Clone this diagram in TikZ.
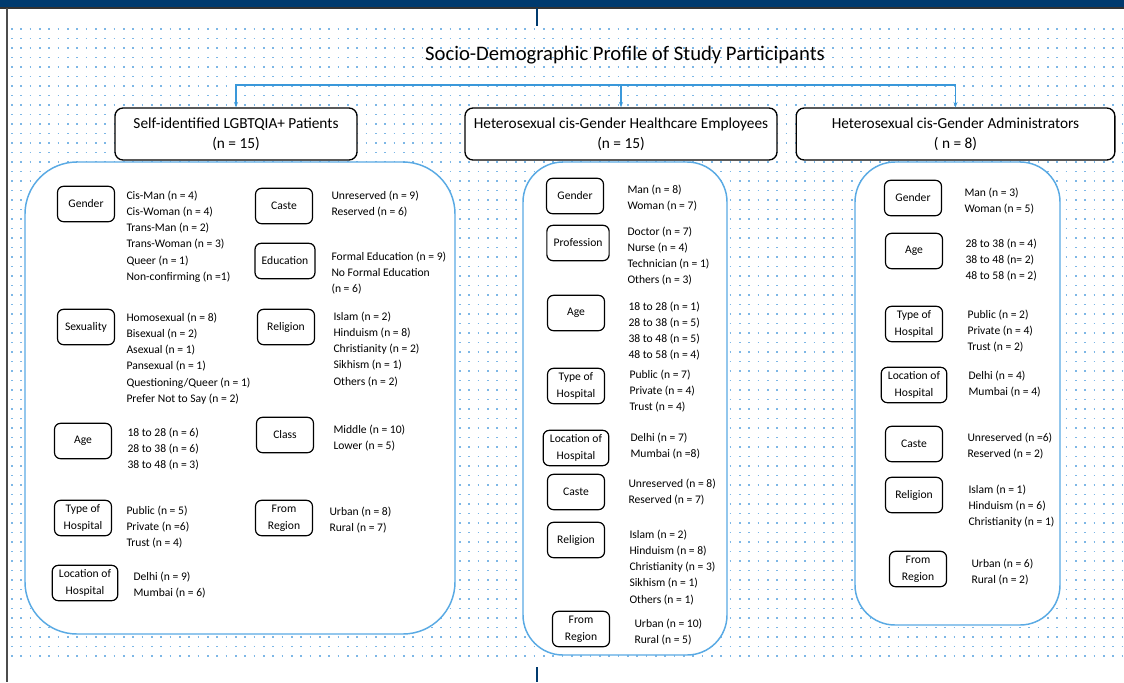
\documentclass[tikz,border=0pt]{standalone}
\usepackage{fontspec}
\setmainfont{Carlito}
\usetikzlibrary{arrows.meta}

\definecolor{bandnavy}{HTML}{003A6E}
\definecolor{dotblue}{HTML}{7DB7E6}
\definecolor{panelblue}{HTML}{5AAAE4}
\definecolor{linkblue}{HTML}{3A98DA}

\tikzset{every picture/.style={line width=0.75pt}}
\tikzset{
  hdrbox/.style={draw=black, line width=1pt, rounded corners=6pt, fill=white, align=center,
    minimum height=39pt, font=\fontsize{11.5}{15}\selectfont},
  catbox/.style={draw=black, line width=0.9pt, rounded corners=4.5pt, fill=white, align=center,
    minimum width=42.75pt, minimum height=26.5pt, inner xsep=5pt, inner ysep=1pt,
    font=\fontsize{8.7}{12.5}\selectfont},
  items/.style={anchor=north west, inner sep=0.75pt, align=left, font=\fontsize{8.7}{12.1}\selectfont},
  panel/.style={draw=panelblue, line width=1.1pt, fill=white},
  link/.style={draw=linkblue, line width=0.8pt, -{Stealth[length=4pt,width=3pt]}},
}

\begin{document}
\begin{tikzpicture}[x=0.75pt,y=0.75pt,yscale=-1,xscale=1]
\useasboundingbox (0,0) rectangle (1124,682);
% Background
\fill[white] (0,0) rectangle (1124,682);
\foreach \y in {29,38.5,...,664} {
  \draw[dotblue, line width=1.2pt, dash pattern=on 1.2pt off 5.8pt] (11,\y) -- (1124,\y);
}
\fill[bandnavy] (0,0) rectangle (1124,7.5);
\draw[black!80, line width=0.9pt] (0,8) -- (1124,8);
\draw[black!70, line width=1.4pt] (7,8) -- (7,682);
\draw[bandnavy, line width=1.5pt] (537,8) -- (537,26);
\draw[bandnavy, line width=1.5pt] (537,667) -- (537,682);

% Text Node
\draw (625,55) node [font=\fontsize{15.5}{18}\selectfont] (title) {Socio-Demographic Profile of Study Participants};

% Shape: Rounded Rect
\draw[panel, rounded corners=52pt*0.75] (25,162) rectangle (455,634);
\draw[panel, rounded corners=40pt*0.75] (523,162) rectangle (727,655);
\draw[panel, rounded corners=40pt*0.75] (855,162) rectangle (1060,625);

% Header boxes
\draw (236,134) node [hdrbox, minimum width=181.5pt] (lgbt) {Self-identified LGBTQIA+ Patients\\(n = 15)};
\draw (621,134) node [hdrbox, minimum width=234pt] (staff) {Heterosexual cis-Gender Healthcare Employees\\(n = 15)};
\draw (955.5,134) node [hdrbox, minimum width=239pt] (admin) {Heterosexual cis-Gender Administrators\\( n = 8)};

% Connectors
\coordinate (split) at (621,85);
\draw[link] (split) -| (lgbt.north);
\draw[link] (split) -- (staff.north);
\draw[link] (split) -| (admin.north);

% LGBTQIA+ patients
\draw (86,204) node [catbox] (pGender) {Gender};
\draw (125,189.5) node [items] (pGenderList) {Cis-Man (n = 4)\\Cis-Woman (n = 4)\\Trans-Man (n = 2)\\Trans-Woman (n = 3)\\Queer (n = 1)\\Non-confirming (n =1)};
\draw (86,327) node [catbox] (pSex) {Sexuality};
\draw (125,311.5) node [items] (pSexList) {Homosexual (n = 8)\\Bisexual (n = 2)\\Asexual (n = 1)\\Pansexual (n = 1)\\Questioning/Queer (n = 1)\\Prefer Not to Say (n = 2)};
\draw (83,441) node [catbox] (pAge) {Age};
\draw (126,426.5) node [items] (pAgeList) {18 to 28 (n = 6)\\28 to 38 (n = 6)\\38 to 48 (n = 3)};
\draw (83,518) node [catbox] (pType) {Type of\\Hospital};
\draw (125,504.5) node [items] (pTypeList) {Public (n = 5)\\Private (n =6)\\Trust (n = 4)};
\draw (85,583) node [catbox] (pLoc) {Location of\\Hospital};
\draw (132,570.5) node [items] (pLocList) {Delhi (n = 9)\\Mumbai (n = 6)};
\draw (284,206) node [catbox] (pCaste) {Caste};
\draw (330,189.5) node [items] (pCasteList) {Unreserved (n = 9)\\Reserved (n = 6)};
\draw (285,261) node [catbox] (pEdu) {Education};
\draw (330,250.5) node [items] (pEduList) {Formal Education (n = 9)\\No Formal Education\\(n = 6)};
\draw (286,327) node [catbox] (pRel) {Religion};
\draw (332,310.5) node [items] (pRelList) {Islam (n = 2)\\Hinduism (n = 8)\\Christianity (n = 2)\\Sikhism (n = 1)\\Others (n = 2)};
\draw (285,435) node [catbox] (pClass) {Class};
\draw (332,423.5) node [items] (pClassList) {Middle (n = 10)\\Lower (n = 5)};
\draw (284,518) node [catbox] (pReg) {From\\Region};
\draw (328,505.5) node [items] (pRegList) {Urban (n = 8)\\Rural (n = 7)};

% Healthcare employees
\draw (575,196) node [catbox] (sGender) {Gender};
\draw (626,183.5) node [items] (sGenderList) {Man (n = 8)\\Woman (n = 7)};
\draw (578,243) node [catbox] (sProf) {Profession};
\draw (626,225.5) node [items] (sProfList) {Doctor (n = 7)\\Nurse (n = 4)\\Technician (n = 1)\\Others (n = 3)};
\draw (576,313) node [catbox] (sAge) {Age};
\draw (627,300.5) node [items] (sAgeList) {18 to 28 (n = 1)\\28 to 38 (n = 5)\\38 to 48 (n = 5)\\48 to 58 (n = 4)};
\draw (576,386) node [catbox] (sType) {Type of\\Hospital};
\draw (628,368.5) node [items] (sTypeList) {Public (n = 7)\\Private (n = 4)\\Trust (n = 4)};
\draw (576,448) node [catbox] (sLoc) {Location of\\Hospital};
\draw (629,431.5) node [items] (sLocList) {Delhi (n = 7)\\Mumbai (n =8)};
\draw (576,492) node [catbox] (sCaste) {Caste};
\draw (627,477.5) node [items] (sCasteList) {Unreserved (n = 8)\\Reserved (n = 7)};
\draw (576,540) node [catbox] (sRel) {Religion};
\draw (628,528.5) node [items] (sRelList) {Islam (n = 2)\\Hinduism (n = 8)\\Christianity (n = 3)\\Sikhism (n = 1)\\Others (n = 1)};
\draw (581,629) node [catbox] (sReg) {From\\Region};
\draw (633,617.5) node [items] (sRegList) {Urban (n = 10)\\Rural (n = 5)};

% Administrators
\draw (913,198) node [catbox] (aGender) {Gender};
\draw (963,186.5) node [items] (aGenderList) {Man (n = 3)\\Woman (n = 5)};
\draw (914,251) node [catbox] (aAge) {Age};
\draw (964,237.5) node [items] (aAgeList) {28 to 38 (n = 4)\\38 to 48 (n= 2)\\48 to 58 (n = 2)};
\draw (914,324) node [catbox] (aType) {Type of\\Hospital};
\draw (966,308.5) node [items] (aTypeList) {Public (n = 2)\\Private (n = 4)\\Trust (n = 2)};
\draw (914,385) node [catbox] (aLoc) {Location of\\Hospital};
\draw (967,369.5) node [items] (aLocList) {Delhi (n = 4)\\Mumbai (n = 4)};
\draw (914,444) node [catbox] (aCaste) {Caste};
\draw (966,431.5) node [items] (aCasteList) {Unreserved (n =6)\\Reserved (n = 2)};
\draw (914,495) node [catbox] (aRel) {Religion};
\draw (967,483.5) node [items] (aRelList) {Islam (n = 1)\\Hinduism (n = 6)\\Christianity (n = 1)};
\draw (918,569) node [catbox] (aReg) {From\\Region};
\draw (970,557.5) node [items] (aRegList) {Urban (n = 6)\\Rural (n = 2)};
\end{tikzpicture}
\end{document}
